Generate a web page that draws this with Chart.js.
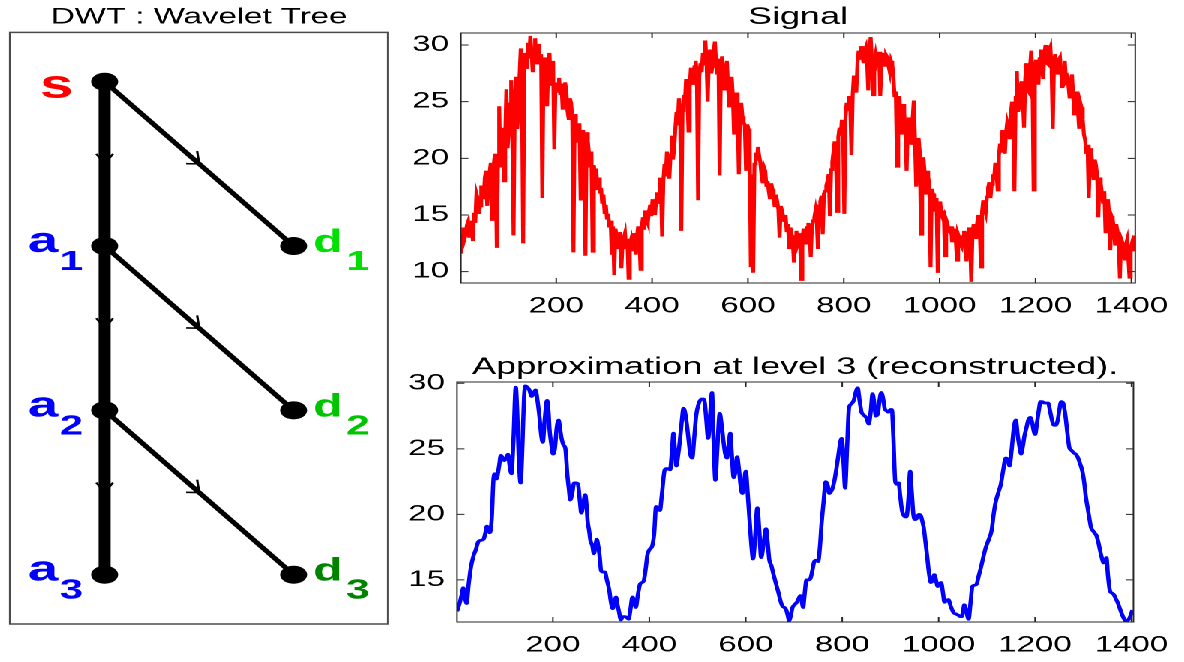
<!DOCTYPE html>
<html>
<head>
<meta charset="utf-8">
<script src="https://cdn.jsdelivr.net/npm/chart.js@4.4.1/dist/chart.umd.min.js"></script>
<style>
  html, body { margin: 0; background: #fff; overflow: hidden; }
  /* the reference figure is stretched sideways, so the whole page is drawn narrow and scaled */
  #fig { position: absolute; left: 0; top: 0; width: 790px; height: 662px; transform: scaleX(1.5); transform-origin: 0 0; }
  canvas { position: absolute; }
</style>
</head>
<body>
<div id="fig">
  <canvas id="tree" width="262" height="640" style="left:0;top:0"></canvas>
  <canvas id="signal" width="539" height="330" style="left:250px;top:0"></canvas>
  <canvas id="approx" width="539" height="322" style="left:250px;top:340px"></canvas>
</div>
<script>
Chart.defaults.font.family = '"Liberation Sans", Arial, sans-serif';
Chart.defaults.color = '#000';

const sx = 1.5; // same as the scaleX in the css

// signal, read every 2.5 samples starting at sample 1
const signalStart = 1;
const signalStep = 2.5;
const signalValues = [
  11.6, 13.2, 13.9, 12.9, 13.3, 14.1, 14.4, 13.0, 13.6, 14.5, 12.7, 15.2, 14.3, 16.9, 16.5, 15.1, 15.8, 17.6, 17.2, 16.4,
  18.3, 18.9, 15.8, 17.5, 18.8, 19.6, 14.6, 19.0, 20.0, 20.4, 12.1, 19.8, 24.6, 19.2, 21.1, 22.7, 18.0, 21.6, 26.1, 20.9,
  22.5, 24.8, 26.9, 21.7, 13.2, 25.0, 27.2, 22.6, 24.0, 27.3, 29.7, 26.2, 12.5, 29.3, 28.6, 27.9, 30.2, 28.8, 30.8, 29.4,
  27.6, 29.0, 30.6, 28.3, 29.5, 30.1, 28.4, 29.2, 16.5, 28.0, 28.9, 27.7, 24.6, 28.1, 29.3, 26.4, 27.5, 28.6, 20.8, 26.7,
  25.8, 26.4, 27.1, 25.6, 26.6, 24.3, 25.4, 26.7, 26.0, 24.2, 23.5, 25.3, 24.9, 23.6, 11.7, 23.9, 22.8, 21.4, 22.2, 23.1,
  16.4, 21.9, 22.5, 20.6, 11.4, 22.3, 21.5, 20.4, 19.2, 20.6, 11.8, 19.4, 18.6, 19.1, 17.2, 18.3, 16.9, 17.4, 16.0, 16.8,
  15.2, 15.9, 14.6, 15.1, 13.9, 14.5, 11.5, 14.0, 9.7, 13.8, 13.2, 12.0, 12.5, 13.5, 10.3, 12.6, 13.0, 13.4, 12.0, 12.9,
  9.4, 12.4, 12.8, 11.8, 13.4, 12.7, 11.5, 13.1, 14.0, 12.9, 10.2, 13.9, 14.8, 13.7, 15.4, 14.6, 14.3, 15.3, 15.9, 14.9,
  16.4, 15.6, 15.0, 16.3, 17.0, 16.1, 18.3, 17.5, 13.1, 18.0, 19.5, 18.4, 20.6, 19.7, 18.2, 20.3, 22.0, 19.9, 20.8, 22.6,
  24.1, 22.9, 25.3, 24.4, 13.6, 24.2, 25.6, 25.0, 27.0, 25.7, 22.4, 26.3, 28.0, 27.1, 26.5, 28.1, 28.6, 27.4, 16.3, 27.2,
  28.4, 27.6, 29.3, 28.2, 30.4, 28.7, 25.0, 28.9, 29.6, 27.5, 28.1, 29.4, 30.3, 28.5, 27.4, 28.8, 18.5, 27.9, 29.0, 27.3,
  26.1, 27.8, 28.6, 26.4, 24.5, 26.6, 27.2, 25.5, 22.1, 25.2, 25.8, 24.0, 18.6, 24.3, 24.9, 23.7, 23.2, 22.9, 18.9, 23.0,
  22.6, 21.5, 10.4, 18.6, 9.9, 19.5, 20.5, 19.8, 21.0, 20.2, 19.6, 18.4, 17.8, 19.2, 18.9, 17.6, 18.0, 17.1, 16.4, 17.8,
  17.3, 16.6, 15.7, 16.8, 16.2, 15.5, 13.0, 15.8, 15.4, 14.9, 14.4, 15.0, 13.5, 14.2, 12.1, 13.9, 13.3, 12.7, 10.8, 13.1,
  13.6, 12.5, 12.9, 13.4, 9.3, 12.8, 13.8, 13.1, 12.4, 13.9, 14.3, 13.5, 11.3, 14.0, 14.5, 14.8, 15.4, 14.6, 12.0, 15.8,
  16.2, 16.7, 13.3, 16.9, 17.1, 17.6, 18.0, 18.6, 14.9, 19.0, 19.7, 20.6, 21.5, 20.8, 15.3, 21.9, 22.7, 22.0, 23.4, 22.3,
  15.1, 23.6, 24.9, 24.2, 25.5, 24.7, 20.3, 25.6, 27.3, 26.6, 25.8, 28.4, 29.5, 28.7, 29.9, 29.2, 28.4, 29.5, 29.8, 28.6,
  26.0, 29.3, 30.7, 28.8, 25.6, 28.5, 29.1, 28.3, 28.6, 29.4, 25.5, 28.0, 29.3, 28.7, 28.2, 29.1, 28.9, 28.1, 27.6, 28.6,
  28.3, 27.2, 25.4, 25.9, 19.3, 24.6, 25.5, 23.3, 22.1, 24.8, 24.0, 22.6, 18.9, 22.9, 23.6, 22.0, 21.2, 23.4, 25.1, 21.6,
  17.5, 21.0, 21.8, 20.5, 13.3, 19.6, 20.1, 18.8, 16.8, 18.9, 18.4, 17.6, 10.4, 17.3, 16.9, 16.1, 15.3, 16.5, 9.9, 15.7,
  16.2, 15.1, 14.8, 15.4, 11.4, 14.6, 14.3, 13.6, 13.5, 14.0, 12.6, 13.2, 13.8, 12.9, 11.0, 13.3, 13.0, 12.4, 12.2, 13.1,
  13.6, 12.8, 10.9, 13.2, 13.9, 12.6, 9.1, 13.5, 14.2, 13.0, 13.4, 14.4, 15.0, 14.1, 10.4, 15.3, 16.3, 15.6, 15.2, 16.6,
  17.4, 17.9, 16.5, 17.7, 18.6, 18.1, 19.6, 18.9, 17.2, 20.2, 21.3, 20.5, 22.5, 21.6, 20.4, 22.3, 23.2, 22.8, 21.8, 23.9,
  25.0, 23.5, 17.1, 25.4, 27.7, 24.1, 24.6, 26.3, 26.8, 25.2, 22.7, 27.0, 28.4, 26.1, 25.9, 28.0, 29.5, 27.3, 17.2, 27.8,
  28.7, 27.4, 26.5, 28.8, 29.6, 28.1, 27.0, 29.3, 30.0, 28.4, 28.3, 29.5, 29.8, 27.9, 22.6, 28.4, 29.2, 28.0, 27.5, 28.7,
  28.9, 27.6, 26.2, 27.8, 28.6, 26.9, 27.1, 26.5, 25.4, 26.8, 27.4, 25.6, 23.8, 25.1, 25.9, 24.2, 22.6, 24.9, 24.5, 23.4,
  22.1, 21.6, 20.4, 21.2, 16.5, 20.0, 20.9, 19.1, 18.2, 19.9, 19.4, 18.5, 14.8, 18.3, 17.8, 16.9, 16.0, 17.1, 13.5, 15.8,
  16.4, 15.0, 11.9, 14.9, 14.6, 13.8, 12.3, 14.2, 13.4, 12.5, 9.4, 12.9, 12.6, 11.7, 11.0, 12.4, 12.8, 11.3, 9.5, 12.1,
  12.5, 11.8, 13.2
];

// approximation at level 3, read as (sample, value) pairs
const approxX = [
  1, 7, 11, 14, 17, 21, 25, 30, 35, 40, 45, 48, 56, 60, 63, 69, 73, 77, 80, 83,
  88, 92, 96, 99, 103, 107, 110, 114, 118, 123, 126, 129, 133, 137, 140, 143, 147, 151, 156, 160,
  164, 168, 172, 176, 179, 183, 188, 191, 193, 197, 200, 204, 208, 212, 215, 218, 222, 226, 230, 233,
  236, 240, 244, 248, 252, 256, 259, 263, 267, 270, 272, 275, 278, 282, 285, 288, 291, 294, 297, 300,
  304, 308, 312, 317, 320, 324, 328, 331, 334, 337, 341, 345, 350, 354, 357, 361, 365, 368, 372, 376,
  381, 385, 389, 393, 396, 400, 406, 410, 414, 418, 422, 426, 432, 437, 443, 447, 450, 453, 456, 460,
  463, 467, 471, 475, 479, 482, 485, 489, 493, 497, 502, 508, 512, 515, 518, 522, 526, 530, 533, 537,
  541, 546, 550, 554, 557, 561, 564, 568, 571, 575, 579, 582, 586, 590, 593, 597, 600, 604, 608, 612,
  615, 619, 624, 628, 632, 636, 642, 646, 649, 653, 657, 662, 668, 672, 676, 680, 684, 687, 690, 694,
  697, 701, 706, 710, 713, 716, 719, 722, 726, 730, 734, 738, 742, 746, 750, 754, 757, 761, 766, 770,
  773, 776, 779, 784, 788, 792, 796, 799, 803, 806, 810, 814, 818, 824, 828, 832, 836, 840, 844, 847,
  851, 855, 859, 863, 866, 870, 874, 877, 881, 885, 888, 892, 896, 900, 903, 906, 910, 913, 917, 920,
  924, 928, 933, 937, 941, 944, 948, 952, 956, 959, 963, 966, 969, 973, 977, 980, 984, 988, 991, 995,
  998, 1002, 1005, 1009, 1012, 1016, 1020, 1025, 1031, 1036, 1041, 1045, 1048, 1051, 1053, 1057, 1062, 1066, 1070, 1075,
  1079, 1083, 1088, 1093, 1098, 1104, 1110, 1114, 1118, 1124, 1129, 1134, 1139, 1143, 1147, 1151, 1156, 1160, 1164, 1167,
  1171, 1175, 1178, 1182, 1186, 1190, 1194, 1197, 1200, 1204, 1208, 1211, 1215, 1219, 1223, 1227, 1231, 1235, 1239, 1243,
  1247, 1250, 1254, 1258, 1263, 1267, 1271, 1275, 1280, 1284, 1288, 1293, 1298, 1302, 1305, 1309, 1313, 1316, 1319, 1323,
  1327, 1331, 1335, 1339, 1342, 1345, 1348, 1351, 1355, 1359, 1363, 1367, 1371, 1376, 1381, 1385, 1389, 1392, 1396, 1399,
  1402
];
const approxY = [
  12.6, 13.3, 13.9, 14.4, 13.8, 13.2, 14.6, 16.0, 16.8, 17.3, 17.9, 18.0, 18.1, 18.6, 19.1, 18.6, 19.6, 22.8, 23.1, 22.7,
  23.6, 24.5, 24.3, 24.1, 24.3, 24.6, 23.8, 23.1, 25.5, 29.7, 27.8, 24.5, 22.4, 25.5, 28.8, 29.8, 29.7, 29.5, 29.0, 29.2,
  29.5, 28.7, 27.5, 26.0, 25.5, 27.2, 28.7, 27.8, 26.5, 25.3, 24.6, 25.0, 26.6, 27.2, 26.5, 25.8, 25.3, 25.0, 23.0, 22.0,
  21.1, 21.6, 22.4, 22.4, 22.3, 21.0, 20.1, 20.8, 21.5, 20.6, 19.5, 18.8, 18.0, 17.6, 17.0, 17.5, 18.1, 17.6, 16.8, 15.7,
  15.6, 15.6, 15.0, 14.2, 13.4, 12.8, 13.3, 13.7, 13.1, 12.6, 11.95, 12.2, 12.2, 12.1, 12.0, 12.8, 13.7, 13.4, 12.9, 13.8,
  14.7, 14.8, 15.0, 16.0, 16.9, 17.3, 17.6, 18.5, 20.6, 20.5, 20.3, 21.5, 23.4, 23.5, 23.4, 24.8, 26.2, 24.9, 23.7, 24.6,
  25.5, 27.0, 28.1, 27.6, 26.5, 25.5, 24.6, 24.3, 25.8, 27.5, 28.4, 28.8, 28.8, 28.5, 27.3, 25.8, 27.5, 29.3, 26.0, 22.6,
  25.0, 27.7, 26.8, 25.5, 24.7, 24.3, 25.1, 26.2, 24.6, 22.8, 23.4, 24.4, 23.4, 22.0, 21.6, 22.6, 23.3, 21.6, 19.5, 17.5,
  16.6, 18.0, 20.5, 18.8, 16.7, 17.5, 18.9, 17.6, 16.5, 16.1, 15.5, 14.8, 14.0, 13.4, 13.0, 12.9, 12.7, 12.3, 11.9, 12.4,
  12.9, 13.1, 13.3, 13.6, 13.8, 13.4, 12.9, 13.9, 15.0, 15.0, 15.1, 15.7, 16.4, 16.5, 16.4, 17.6, 19.2, 20.8, 22.5, 22.2,
  21.6, 21.7, 21.9, 22.6, 23.5, 24.5, 25.5, 25.8, 23.8, 22.0, 25.0, 28.1, 28.4, 28.7, 29.3, 29.65, 28.7, 27.8, 27.6, 27.5,
  27.3, 26.9, 27.8, 29.2, 28.6, 27.5, 27.7, 28.6, 29.3, 28.8, 28.1, 27.9, 27.8, 28.0, 28.0, 26.0, 22.5, 22.3, 22.4, 21.5,
  20.3, 19.9, 19.8, 21.0, 23.3, 21.8, 19.9, 19.6, 19.8, 20.0, 19.9, 19.5, 19.0, 17.8, 16.5, 15.5, 14.8, 15.0, 15.4, 14.9,
  14.5, 14.7, 14.8, 14.0, 13.3, 13.4, 13.5, 13.0, 12.5, 12.4, 12.3, 12.2, 12.2, 12.7, 13.1, 12.7, 12.0, 13.2, 14.5, 14.6,
  14.7, 15.3, 16.0, 16.8, 17.5, 18.1, 18.8, 20.0, 20.9, 21.7, 22.3, 23.4, 24.3, 24.2, 23.7, 24.8, 26.6, 27.2, 26.0, 25.3,
  24.6, 25.3, 26.0, 26.6, 27.2, 27.4, 27.0, 26.4, 26.1, 27.0, 28.0, 28.6, 28.6, 28.5, 28.5, 28.5, 27.9, 27.2, 26.8, 26.8,
  27.2, 27.9, 28.6, 28.5, 27.5, 26.2, 25.1, 24.9, 24.7, 24.6, 24.4, 23.9, 23.3, 22.4, 21.4, 20.5, 19.6, 19.0, 18.8, 18.6,
  18.4, 17.9, 17.2, 16.6, 16.3, 16.5, 16.7, 15.4, 14.2, 14.0, 13.9, 13.6, 13.3, 12.8, 12.3, 12.0, 11.85, 11.9, 12.1, 12.4,
  12.7
];

const xTicks = [200, 400, 600, 800, 1000, 1200, 1400];
const signalYTicks = [10, 15, 20, 25, 30];
const approxYTicks = [15, 20, 25, 30];

// wavelet tree: level down the page, column 0 = approximations, 1 = details
const nodeLetter = ['s', 'a', 'a', 'a', 'd', 'd', 'd'];
const nodeSub = ['', '1', '2', '3', '1', '2', '3'];
const nodeLevel = [0, 1, 2, 3, 1, 2, 3];
const nodeColumn = [0, 0, 0, 0, 1, 1, 1];
const edgeFrom = [0, 1, 2, 0, 1, 2];
const edgeTo = [1, 2, 3, 4, 5, 6];

const nodeColors = ['#ff0000', '#0000ff', '#0000ff', '#0000ff', '#00e000', '#00c400', '#008400'];
const letterFont = { s: 40, a: 36, d: 32 };

// matlab style box with ticks pointing inwards
const matlabBox = {
  id: 'matlabBox',
  afterDatasetsDraw(chart) {
    const { ctx, chartArea: a, scales: { x, y } } = chart;
    ctx.save();
    ctx.strokeStyle = '#262626';
    ctx.lineWidth = 1;
    ctx.strokeRect(a.left, a.top, a.right - a.left, a.bottom - a.top);
    ctx.beginPath();
    x.ticks.forEach(t => {
      const px = x.getPixelForValue(t.value);
      ctx.moveTo(px, a.bottom); ctx.lineTo(px, a.bottom - 5);
      ctx.moveTo(px, a.top); ctx.lineTo(px, a.top + 5);
    });
    y.ticks.forEach(t => {
      const py = y.getPixelForValue(t.value);
      ctx.moveTo(a.left, py); ctx.lineTo(a.left + 5, py);
      ctx.moveTo(a.right, py); ctx.lineTo(a.right - 5, py);
    });
    ctx.stroke();
    ctx.restore();
  }
};

function plot(id, o) {
  return new Chart(document.getElementById(id), {
    type: 'line',
    data: {
      datasets: [{
        data: o.points,
        borderColor: o.color,
        borderWidth: o.width,
        pointRadius: 0,
        cubicInterpolationMode: o.smooth ? 'monotone' : 'default',
        tension: 0
      }]
    },
    options: {
      responsive: false,
      animation: false,
      devicePixelRatio: 2,
      layout: { autoPadding: false, padding: o.padding },
      plugins: {
        legend: { display: false },
        tooltip: { enabled: false },
        title: {
          display: true, fullSize: false, text: o.title, color: '#000',
          font: { size: 24, weight: 'normal' }, padding: o.titlePadding
        }
      },
      scales: {
        x: {
          type: 'linear', min: o.xMin, max: o.xMax,
          grid: { display: false, drawTicks: false }, border: { display: false },
          ticks: { padding: 10, font: { size: 22 }, maxRotation: 0, autoSkip: false, callback: v => String(v) },
          afterBuildTicks: s => { s.ticks = xTicks.map(v => ({ value: v })); },
          afterFit: s => { s.height = 40; }
        },
        y: {
          min: o.yMin, max: o.yMax,
          grid: { display: false, drawTicks: false }, border: { display: false },
          ticks: { padding: 8, font: { size: 22 }, callback: v => String(v) },
          afterBuildTicks: s => { s.ticks = o.yTicks.map(v => ({ value: v })); },
          afterFit: s => { s.width = o.yWidth; }
        }
      }
    },
    plugins: [matlabBox]
  });
}

plot('signal', {
  points: signalValues.map((v, i) => ({ x: signalStart + i * signalStep, y: v })),
  color: '#ff0000', width: 2.6, title: 'Signal',
  xMin: 1, xMax: 1408, yMin: 9.0, yMax: 31.06, yTicks: signalYTicks,
  yWidth: 57.3, padding: { left: 0, right: 27.7, top: 1.2, bottom: 7 },
  titlePadding: { top: 2, bottom: 1 }, smooth: false
});

plot('approx', {
  points: approxX.map((v, i) => ({ x: v, y: approxY[i] })),
  color: '#0000ff', width: 2.8, title: 'Approximation at level 3 (reconstructed).',
  xMin: 1, xMax: 1404, yMin: 11.79, yMax: 30.1, yTicks: approxYTicks,
  yWidth: 54.7, padding: { left: 0, right: 31.7, top: 10, bottom: 0 },
  titlePadding: { top: 3.1, bottom: 0.1 }, smooth: true
});

// tree: frame, arrowheads half way along each edge, node names
const treeDecor = {
  id: 'treeDecor',
  afterDatasetsDraw(chart) {
    const { ctx, chartArea: a, scales: { x, y } } = chart;
    const px = i => x.getPixelForValue(nodeColumn[i]);
    const py = i => y.getPixelForValue(nodeLevel[i]);
    ctx.save();
    ctx.strokeStyle = '#4a4a4a';
    ctx.lineWidth = 1.5;
    ctx.strokeRect(a.left, a.top, a.right - a.left, a.bottom - a.top);

    ctx.strokeStyle = '#000';
    ctx.lineWidth = 1.6;
    ctx.beginPath();
    edgeFrom.forEach((f, k) => {
      const t = edgeTo[k];
      const mx = (px(f) + px(t)) / 2, my = (py(f) + py(t)) / 2;
      // direction as seen on the stretched page
      let dx = (px(t) - px(f)) * sx, dy = py(t) - py(f);
      const len = Math.hypot(dx, dy);
      dx /= len; dy /= len;
      [40, -40].forEach(deg => {
        const r = deg * Math.PI / 180;
        const ax = -dx * Math.cos(r) + dy * Math.sin(r);
        const ay = -dx * Math.sin(r) - dy * Math.cos(r);
        ctx.moveTo(mx, my);
        ctx.lineTo(mx + ax * 13 / sx, my + ay * 13);
      });
    });
    ctx.stroke();

    nodeLetter.forEach((letter, i) => {
      const cx = px(i), cy = py(i);
      ctx.fillStyle = nodeColors[i];
      ctx.font = 'bold ' + letterFont[letter] + 'px "Liberation Sans", Arial, sans-serif';
      ctx.textBaseline = 'alphabetic';
      if (nodeColumn[i] === 0) {
        ctx.textAlign = 'right';
        if (nodeSub[i]) ctx.fillText(letter, cx - 31, cy + 6);
        else ctx.fillText(letter, cx - 21, cy + 16);
      } else {
        ctx.textAlign = 'left';
        ctx.fillText(letter, cx + 13, cy + 6);
      }
      if (nodeSub[i]) {
        ctx.font = 'bold 28px "Liberation Sans", Arial, sans-serif';
        ctx.textAlign = 'left';
        ctx.fillText(nodeSub[i], nodeColumn[i] === 0 ? cx - 30 : cx + 35, cy + 24);
      }
    });
    ctx.restore();
  }
};

const nodePoints = nodeLevel.map((lv, i) => ({ x: nodeColumn[i], y: lv }));
const chainPoints = nodePoints.filter((p, i) => nodeColumn[i] === 0);
const diagonals = edgeFrom
  .map((f, k) => [f, edgeTo[k]])
  .filter(([f, t]) => nodeColumn[f] !== nodeColumn[t])
  .map(([f, t]) => ({
    data: [nodePoints[f], nodePoints[t]],
    showLine: true, borderColor: '#000', borderWidth: 4, pointRadius: 0, order: 2
  }));

new Chart(document.getElementById('tree'), {
  type: 'scatter',
  data: {
    datasets: [
      { data: nodePoints, pointRadius: 9, pointBackgroundColor: '#000', pointBorderWidth: 0, order: 0 },
      { data: chainPoints, showLine: true, borderColor: '#000', borderWidth: 8, pointRadius: 0, order: 1 },
      ...diagonals
    ]
  },
  options: {
    responsive: false,
    animation: false,
    devicePixelRatio: 2,
    layout: { autoPadding: false, padding: { left: 6.7, right: 3.3, top: 0, bottom: 16 } },
    plugins: {
      legend: { display: false },
      tooltip: { enabled: false },
      title: { display: true, text: 'DWT : Wavelet Tree', color: '#000', font: { size: 22, weight: 'normal' }, padding: { top: 4, bottom: 2 } }
    },
    scales: {
      x: { display: false, min: -0.5, max: 1.5 },
      y: { display: false, reverse: true, min: -0.3, max: 3.3 }
    }
  },
  plugins: [treeDecor]
});
</script>
</body>
</html>
